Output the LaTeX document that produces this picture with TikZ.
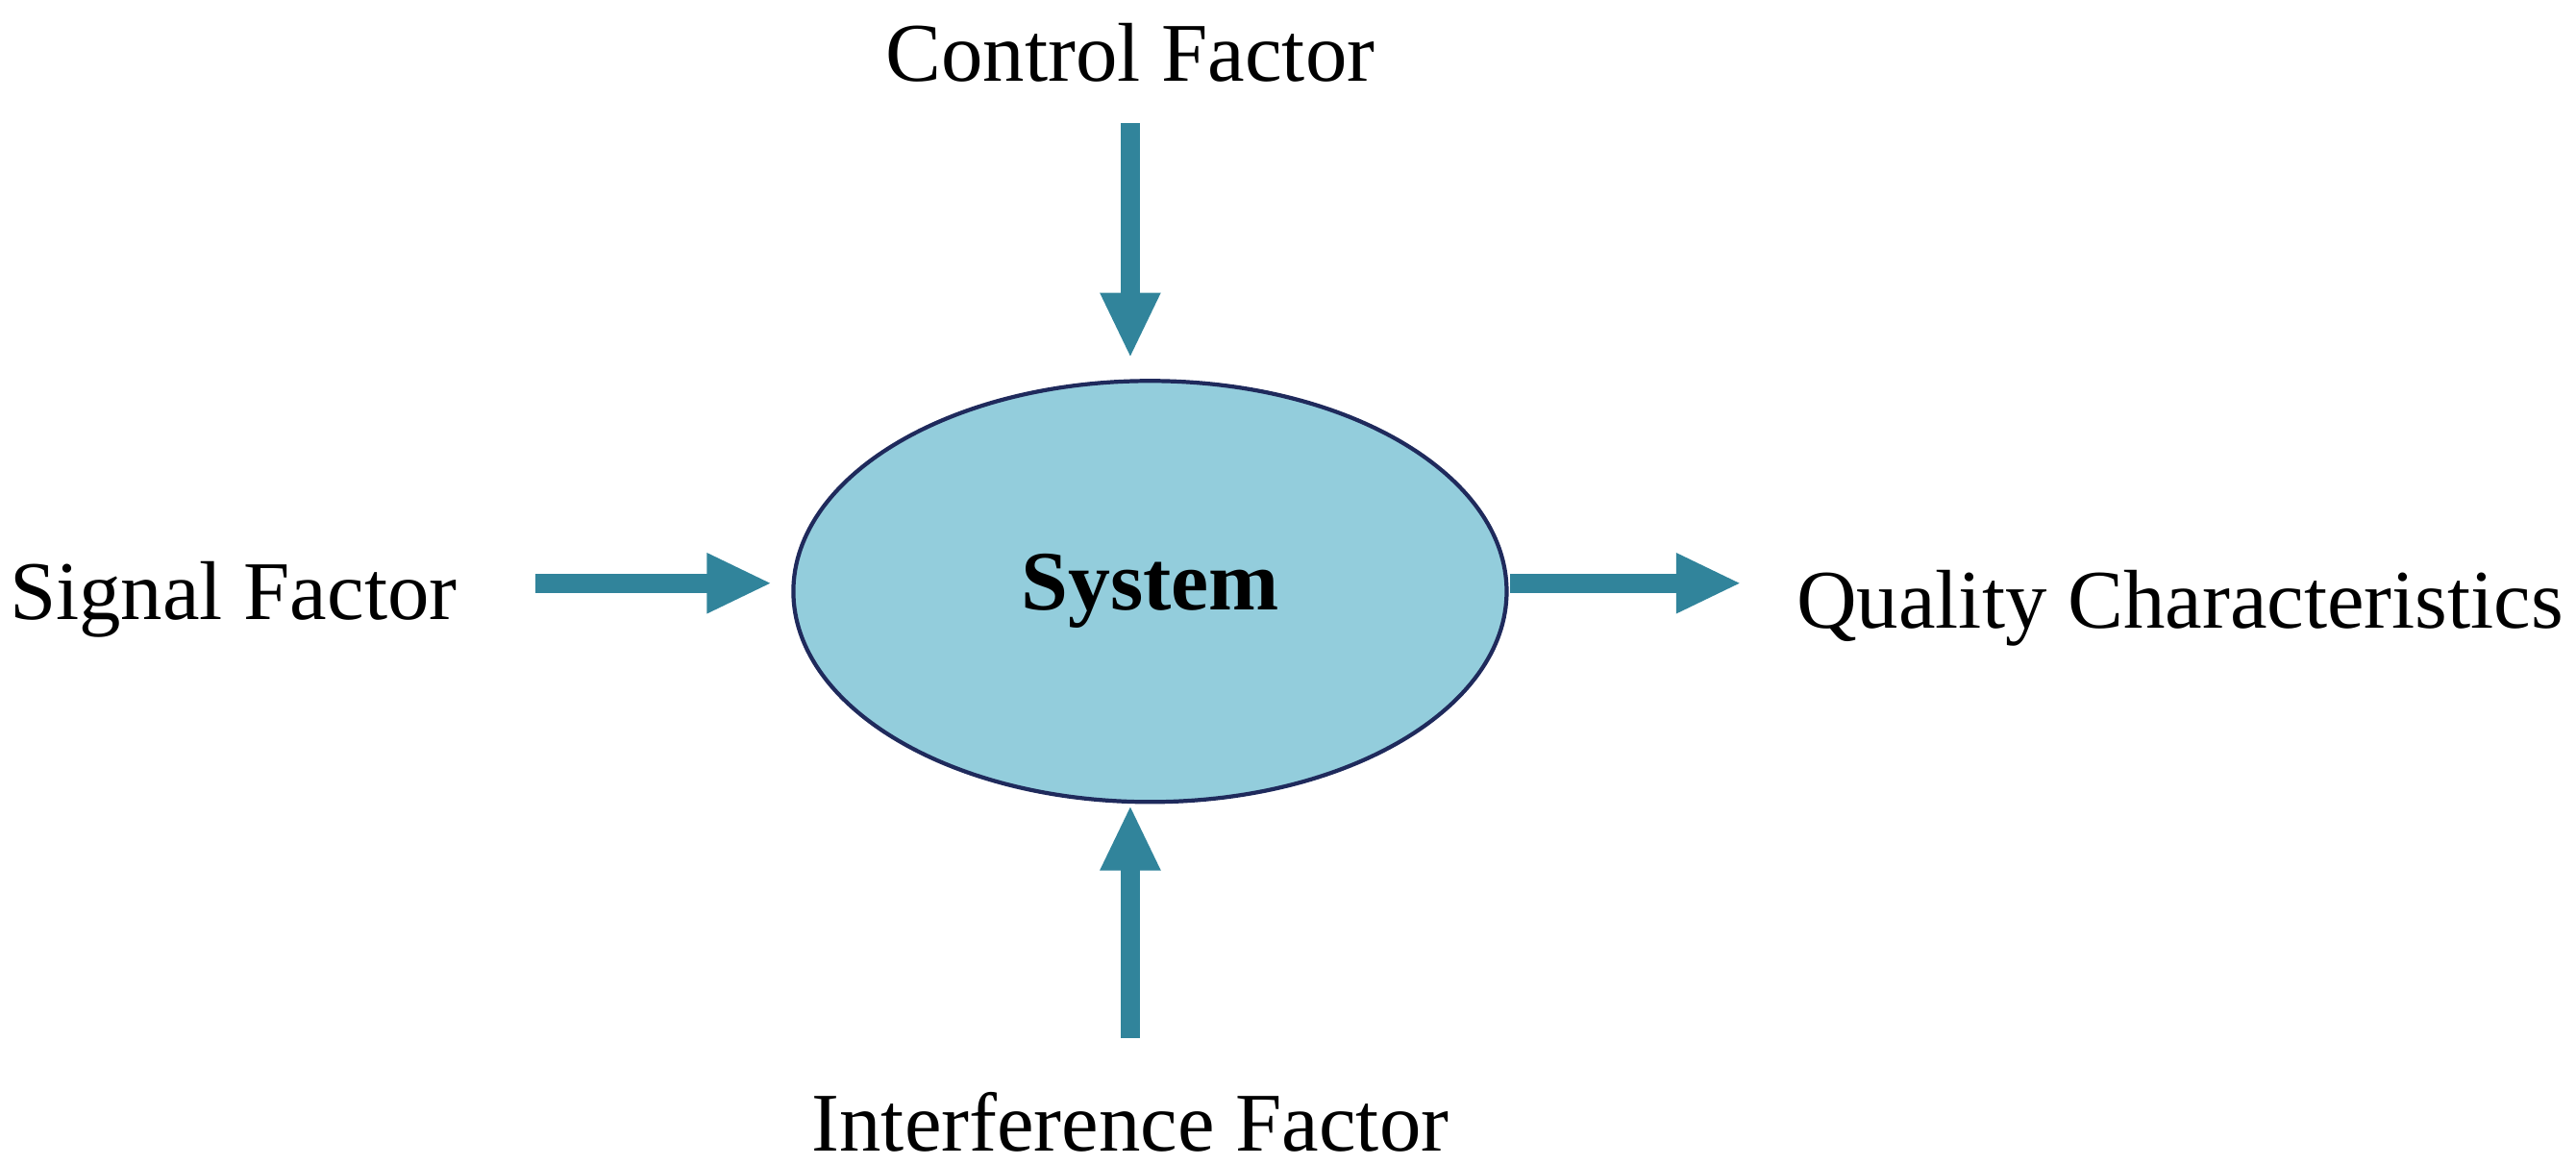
\documentclass[tikz,border=0pt]{standalone}
\usepackage{fontspec}
\setmainfont{Liberation Serif}
\usetikzlibrary{arrows.meta,shapes.geometric}
\definecolor{arr}{HTML}{31849B}
\definecolor{efill}{HTML}{93CDDC}
\definecolor{eline}{HTML}{1F2A5C}
\begin{document}
\begin{tikzpicture}[x=0.01709cm,y=-0.01709cm,
  lbl/.style={font=\fontsize{24.7}{29}\selectfont, inner sep=0pt},
  flow/.style={draw=arr, line width=0.205cm, -{Triangle[length=0.68cm,width=0.58cm]}}]
\useasboundingbox (0,0) rectangle (1568,709);
\node[ellipse, draw=eline, line width=1.2pt, fill=efill, minimum width=7.42cm, minimum height=4.38cm, font=\fontsize{25}{30}\selectfont\bfseries] (sys) at (700,360) {System};
\node[lbl] (ctrl) at (688,32) {Control Factor};
\node[lbl] (intf) at (688,683) {Interference Factor};
\node[lbl] (sig) at (142,365) {Signal Factor};
\node[lbl] (qual) at (1327,370) {Quality Characteristics};
\coordinate (c1) at (688,75); \coordinate (c2) at (688,218);
\coordinate (i1) at (688,632); \coordinate (i2) at (688,490);
\coordinate (s1) at (326,355); \coordinate (s2) at (470,355);
\coordinate (q1) at (919,355); \coordinate (q2) at (1060,355);
\draw[flow] (c1) -- (c2);
\draw[flow] (i1) -- (i2);
\draw[flow] (s1) -- (s2);
\draw[flow] (q1) -- (q2);
\end{tikzpicture}
\end{document}
